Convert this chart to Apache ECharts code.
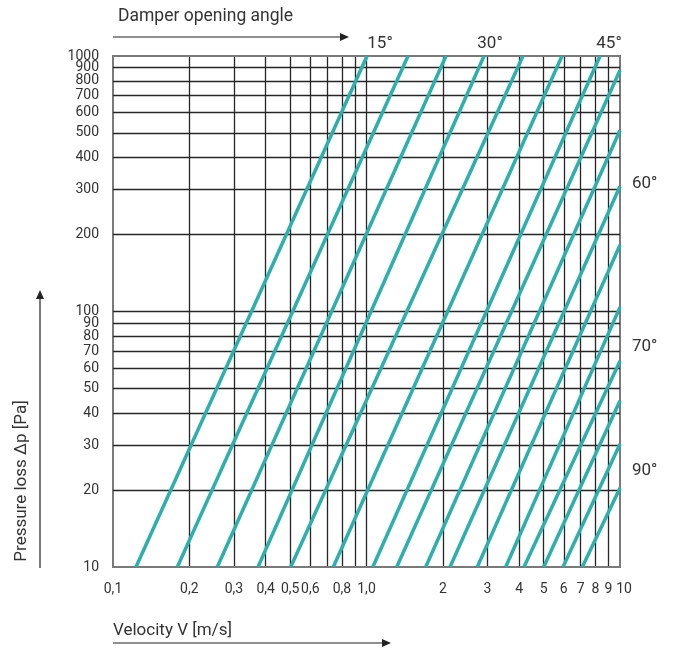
<!DOCTYPE html>
<html><head><meta charset="utf-8">
<script src="https://cdn.jsdelivr.net/npm/echarts@6/dist/echarts.min.js"></script>
<style>html,body{margin:0;padding:0;background:#fff}#c{width:673px;height:650px}</style>
</head><body><div id="c"></div>
<script>
// Tick values and labels
const xTicks = [0.1,0.2,0.3,0.4,0.5,0.6,0.7,0.8,0.9,1,2,3,4,5,6,7,8,9,10];
const xTickLabels = ['0,1','0,2','0,3','0,4','0,5','0,6','','0,8','','1,0','2','3','4','5','6','7','8','9','10'];
const yTicks = [10,20,30,40,50,60,70,80,90,100,200,300,400,500,600,700,800,900,1000];
const yTickLabels = ['10','20','30','40','50','60','70','80','90','100','200','300','400','500','600','700','800','900','1000'];

// Characteristic curves: start at Δp = 10 Pa, end at the top or right edge
const curveStartV = [0.1232,0.1794,0.2579,0.3733,0.5023,0.7396,1.059,1.316,1.712,2.135,2.736,3.541,4.181,5.001,5.958,7.101];
const curveEndV   = [1.005,1.458,2.059,2.908,4.143,5.905,8.340,10,10,10,10,10,10,10,10,10];
const curveEndP   = [1000,1000,1000,1000,1000,1000,1000,879,512,309,182,104,64.0,44.7,30.3,20.4];

const angleLabels = ['15°','30°','45°','60°','70°','90°'];

const TEXT = '#333';
const FONT = 'Roboto';
const TEAL = '#2eaeac';
const GRIDC = '#262626';
const EDGEC = '#7a7a7a';

const chart = echarts.init(document.getElementById('c'), null, {renderer:'canvas'});

const curveSeries = curveStartV.map((v,i)=>({
  type:'line', silent:true, animation:false, showSymbol:false, symbol:'none', z:5,
  data:[[v,10],[curveEndV[i],curveEndP[i]]],
  lineStyle:{color:TEAL,width:3.5}
}));

const isEdgeX = v => v===0.1 || v===10;
const isEdgeY = v => v===10 || v===1000;

const gridSeries = {
  type:'line', silent:true, animation:false, symbol:'none', z:2,
  data:[[0.1,10]], lineStyle:{opacity:0},
  markLine:{
    silent:true, animation:false, symbol:['none','none'], precision:4,
    data:[
      ...xTicks.map((v,i)=>({xAxis:v,
        lineStyle:{color:isEdgeX(v)?EDGEC:GRIDC,width:isEdgeX(v)?2:1.3,type:'solid'},
        label:{show:true,position:'start',distance:10,padding:[5,0,0,v===10?8:0],formatter:xTickLabels[i],color:TEXT,fontFamily:FONT,fontSize:14}})),
      ...yTicks.map((v,i)=>({yAxis:v,
        lineStyle:{color:isEdgeY(v)?EDGEC:GRIDC,width:isEdgeY(v)?2:1.3,type:'solid'},
        label:{show:true,position:'start',distance:14,formatter:yTickLabels[i],color:TEXT,fontFamily:FONT,fontSize:14}}))
    ]
  }
};

function arrowHead(x,y,dir){
  if(dir==='right') return {type:'polygon',shape:{points:[[x,y],[x-9,y-4],[x-9,y+4]]},style:{fill:'#222'}};
  return {type:'polygon',shape:{points:[[x,y],[x-4,y+9],[x+4,y+9]]},style:{fill:'#222'}};
}

const txt = (t,x,y,opt={}) => ({type:'text',x,y,style:Object.assign({text:t,fill:TEXT,font:`17px ${FONT}`,textVerticalAlign:'middle'},opt)});

chart.setOption({
  animation:false,
  backgroundColor:'#fff',
  grid:{left:113,right:53,top:56,bottom:83,show:true,borderColor:EDGEC,borderWidth:2,backgroundColor:'transparent'},
  xAxis:{type:'log',logBase:10,min:0.1,max:10,axisLabel:{show:false},axisTick:{show:false},splitLine:{show:false},axisLine:{show:false}},
  yAxis:{type:'log',logBase:10,min:10,max:1000,axisLabel:{show:false},axisTick:{show:false},splitLine:{show:false},axisLine:{show:false}},
  series:[gridSeries,...curveSeries],
  graphic:[
    txt('Damper opening angle',118,17,{font:`17.5px ${FONT}`}),
    {type:'line',shape:{x1:113,y1:37,x2:342,y2:37},style:{stroke:'#222',lineWidth:1.2}},
    arrowHead(349,37,'right'),
    txt('Velocity V [m/s]',113,631),
    {type:'line',shape:{x1:113,y1:643,x2:384,y2:643},style:{stroke:'#222',lineWidth:1.2}},
    arrowHead(391,643,'right'),
    {type:'text',x:22,y:481,rotation:Math.PI/2,style:{text:'Pressure loss Δp [Pa]',fill:TEXT,font:`17px ${FONT}`,textAlign:'center',textVerticalAlign:'middle'}},
    {type:'line',shape:{x1:40,y1:568,x2:40,y2:298},style:{stroke:'#222',lineWidth:1.2}},
    arrowHead(40,290,'up'),
    txt(angleLabels[0],380,44,{textAlign:'center'}),
    txt(angleLabels[1],490,44,{textAlign:'center'}),
    txt(angleLabels[2],609,44,{textAlign:'center'}),
    txt(angleLabels[3],632,184),
    txt(angleLabels[4],632,347),
    txt(angleLabels[5],632,471)
  ]
});
</script>
</body></html>
